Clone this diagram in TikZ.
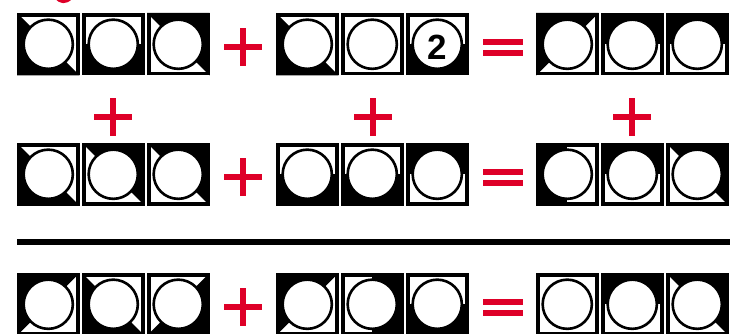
\documentclass[tikz,border=0pt]{standalone}
\usepackage{fontspec}
\setmainfont{Liberation Sans}
\definecolor{pred}{RGB}{222,0,40}
\tikzset{
  x=1pt, y=-1pt,
  halfBL/.pic={\fill[black] (0,0) -- (62.5,62.5) -- (0,62.5) -- cycle;},
  halfTR/.pic={\fill[black] (0,0) -- (62.5,0) -- (62.5,62.5) -- cycle;},
  halfTL/.pic={\fill[black] (0,0) -- (62.5,0) -- (0,62.5) -- cycle;},
  halfBR/.pic={\fill[black] (62.5,0) -- (62.5,62.5) -- (0,62.5) -- cycle;},
  halfB/.pic={\fill[black] (0,31.25) rectangle (62.5,62.5);},
  halfT/.pic={\fill[black] (0,0) rectangle (62.5,31.25);},
  halfL/.pic={\fill[black] (0,0) rectangle (31.25,62.5);},
  halfR/.pic={\fill[black] (31.25,0) rectangle (62.5,62.5);},
  halfN/.pic={},
  tile/.pic={
    \fill[white] (0,0) rectangle (62.5,62.5);
    \pic {half#1};
    \filldraw[fill=white, draw=black, line width=2.6pt] (31.25,31.25) circle (24.6pt);
    \draw[black, line width=3.6pt] (1.8,1.8) rectangle (60.7,60.7);
  },
  plussign/.pic={
    \fill[pred] (-19,-3) rectangle (19,3);
    \fill[pred] (-3,-19) rectangle (3,19);
  },
  eqsign/.pic={
    \fill[pred] (-20,-8.5) rectangle (20,-2.5);
    \fill[pred] (-20,2.5) rectangle (20,8.5);
  }
}
\begin{document}
\begin{tikzpicture}
\useasboundingbox (0,0) rectangle (730,334);
\fill[white] (0,0) rectangle (730,334);
% red fragment at top
\draw[pred, line width=3pt] (56,-3) .. controls (60,3) and (66,3) .. (71,-2);
% row 1
\pic at (17,13) {tile=BL};
\pic at (82,13) {tile=B};
\pic at (147,13) {tile=TR};
\pic at (243,47) {plussign};
\pic at (276,13) {tile=BL};
\pic at (341,13) {tile=N};
\pic at (406,13) {tile=B};
\node[font=\fontsize{35}{35}\selectfont\bfseries, inner sep=0pt] (two) at (437.25,47) {2};
\pic at (503,47.5) {eqsign};
\pic at (536,13) {tile=TL};
\pic at (601,13) {tile=T};
\pic at (666,13) {tile=T};
% vertical pluses
\pic at (113,117) {plussign};
\pic at (373,117) {plussign};
\pic at (632,117) {plussign};
% row 2
\pic at (17,143) {tile=BL};
\pic at (82,143) {tile=TR};
\pic at (147,143) {tile=TR};
\pic at (243,177) {plussign};
\pic at (276,143) {tile=B};
\pic at (341,143) {tile=B};
\pic at (406,143) {tile=T};
\pic at (503,177.5) {eqsign};
\pic at (536,143) {tile=L};
\pic at (601,143) {tile=T};
\pic at (666,143) {tile=TR};
% rule
\fill[black] (17,239) rectangle (730,244.5);
% row 3
\pic at (17,273) {tile=TL};
\pic at (82,273) {tile=BL};
\pic at (147,273) {tile=BR};
\pic at (243,307) {plussign};
\pic at (276,273) {tile=TL};
\pic at (341,273) {tile=R};
\pic at (406,273) {tile=B};
\pic at (503,307.5) {eqsign};
\pic at (536,273) {tile=N};
\pic at (601,273) {tile=T};
\pic at (666,273) {tile=TR};
\end{tikzpicture}
\end{document}
